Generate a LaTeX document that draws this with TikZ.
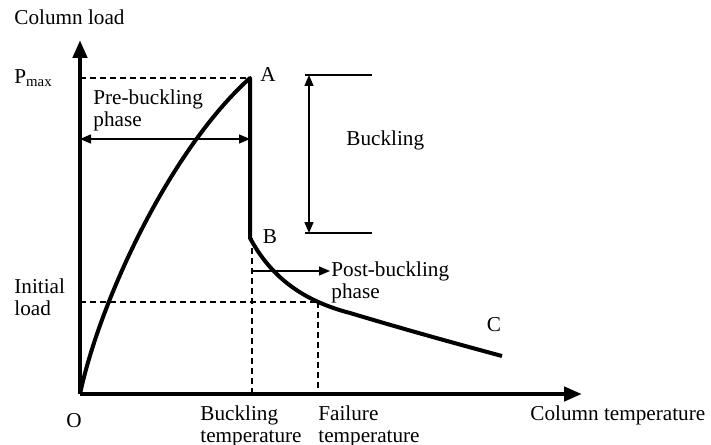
\documentclass[tikz,border=0pt]{standalone}
\usepackage{fontspec}
\setmainfont{Liberation Serif}
\usetikzlibrary{arrows.meta}

\begin{document}
\begin{tikzpicture}[
    x=0.5pt, y=-0.5pt,
    lbl/.style={inner sep=0pt, font=\fontsize{10.6}{11}\selectfont, align=left},
    axis/.style={line width=2.2pt, -{Triangle[length=9pt, width=7pt]}},
    curve/.style={line width=2pt, line join=round},
    guide/.style={dashed, line width=0.7pt, dash pattern=on 3pt off 2pt},
    arr/.style={line width=0.7pt, -{Triangle[length=5.5pt, width=4.5pt]}},
    biarr/.style={line width=0.7pt, {Triangle[length=5.5pt, width=4.5pt]}-{Triangle[length=5.5pt, width=4.5pt]}},
]
\useasboundingbox (0,0) rectangle (711,444);

% key points
\coordinate (O) at (80,394);
\coordinate (ytop) at (80,40);
\coordinate (xend) at (582,394);
\coordinate (A) at (250,78);
\coordinate (B) at (250,238);
\coordinate (M) at (350,313);
\coordinate (C) at (502,356);
\coordinate (pmax) at (80,78);
\coordinate (init) at (80,302);
\coordinate (fail) at (318,302);
\coordinate (bt) at (252,394);
\coordinate (ft) at (318,394);
\coordinate (bb) at (252,238);

% axes
\draw[axis] (O) -- (ytop);
\draw[axis] (O) -- (xend);

% guides
\draw[guide] (pmax) -- (A);
\draw[guide] (init) -- (fail);
\draw[guide] (bb) -- (bt);
\draw[guide] (fail) -- (ft);

% load path
\draw[curve] (O) .. controls (100,300) and (170,150) .. (A) -- (B)
    .. controls (270,275) and (300,300) .. (M)
    .. controls (400,328) and (450,342) .. (C);

% phase arrows
\coordinate (pl) at (80,139);
\coordinate (pr) at (250,139);
\draw[biarr] (pl) -- (pr);

\coordinate (t1l) at (305,75);
\coordinate (t1r) at (372,75);
\coordinate (t2l) at (305,233);
\coordinate (t2r) at (372,233);
\coordinate (bu) at (309,75);
\coordinate (bd) at (309,233);
\draw[line width=0.7pt] (t1l) -- (t1r);
\draw[line width=0.7pt] (t2l) -- (t2r);
\draw[biarr] (bu) -- (bd);

\coordinate (ps) at (252,271);
\coordinate (pe) at (330,271);
\draw[arr] (ps) -- (pe);

% labels
\node[lbl, anchor=west] (lcl) at (14,17) {Column load};
\node[lbl, anchor=west] (lpm) at (14,78) {P\textsubscript{max}};
\node[lbl] (lA) at (268,75) {A};
\node[lbl] (lB) at (270,237) {B};
\node[lbl] (lC) at (494,325) {C};
\node[lbl, anchor=west] (lil) at (14,297) {Initial\\load};
\node[lbl] (lO) at (74,421) {O};
\node[lbl, anchor=west] (lbt) at (200,426) {Buckling\\temperature};
\node[lbl, anchor=west] (lft) at (318,426) {Failure\\temperature};
\node[lbl, anchor=west] (lct) at (530,415) {Column temperature};
\node[lbl, anchor=west] (lpre) at (93,110) {Pre-buckling\\phase};
\node[lbl, anchor=west] (lbuck) at (346,140) {Buckling};
\node[lbl, anchor=west] (lpost) at (331,282) {Post-buckling\\phase};

\end{tikzpicture}
\end{document}
